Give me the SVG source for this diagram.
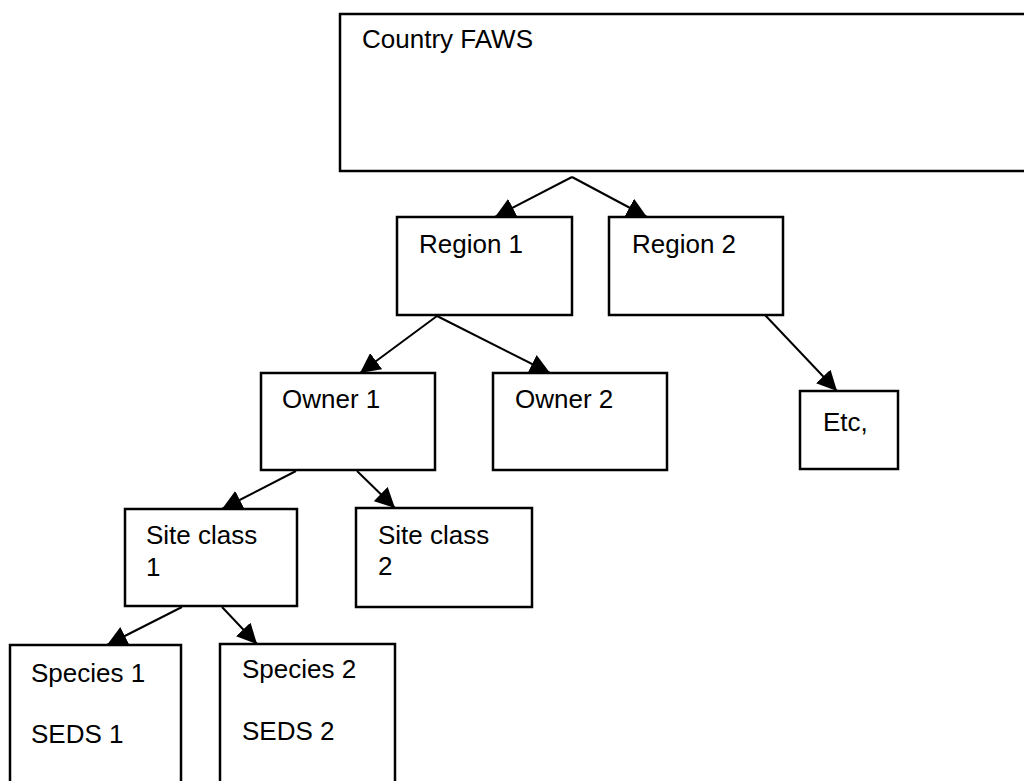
<svg xmlns="http://www.w3.org/2000/svg" width="1024" height="781" viewBox="0 0 1024 781">
<style>
.box{fill:#fff;stroke:#000;stroke-width:2.5}
.lbl{font-family:"Liberation Sans",Arial,sans-serif;font-size:26px;fill:#000}
.con{stroke:#000;stroke-width:2;fill:none;marker-end:url(#ah)}
</style>
<defs>
<marker id="ah" markerUnits="userSpaceOnUse" markerWidth="20" markerHeight="20" viewBox="0 0 20 20" refX="20" refY="10" orient="auto">
<path d="M0,0 L20,10 L0,20 z" fill="#000"/>
</marker>
</defs>
<rect width="1024" height="781" fill="#fff"/>
<g id="connectors">
<line class="con" x1="572" y1="177" x2="495" y2="217"/>
<line class="con" x1="572" y1="177" x2="647" y2="217"/>
<line class="con" x1="437" y1="316" x2="360" y2="373"/>
<line class="con" x1="437" y1="316" x2="550" y2="373"/>
<line class="con" x1="765" y1="315" x2="837" y2="391"/>
<line class="con" x1="296" y1="471" x2="222" y2="509"/>
<line class="con" x1="357" y1="471" x2="395" y2="508"/>
<line class="con" x1="182" y1="607" x2="107" y2="645"/>
<line class="con" x1="222" y1="607" x2="257" y2="644"/>
</g>
<g id="country">
<rect class="box" x="340" y="14" width="700" height="157"/>
<text class="lbl" x="362" y="48">Country FAWS</text>
</g>
<g id="region1">
<rect class="box" x="397" y="217" width="175" height="98"/>
<text class="lbl" x="419" y="253">Region 1</text>
</g>
<g id="region2">
<rect class="box" x="609" y="217" width="174" height="98"/>
<text class="lbl" x="632" y="253">Region 2</text>
</g>
<g id="owner1">
<rect class="box" x="261" y="373" width="174" height="97"/>
<text class="lbl" x="282" y="408">Owner 1</text>
</g>
<g id="owner2">
<rect class="box" x="493" y="373" width="174" height="97"/>
<text class="lbl" x="515" y="408">Owner 2</text>
</g>
<g id="etc">
<rect class="box" x="800" y="391" width="98" height="78"/>
<text class="lbl" x="823" y="431">Etc,</text>
</g>
<g id="siteclass1">
<rect class="box" x="125" y="509" width="172" height="97"/>
<text class="lbl" x="146" y="544">Site class</text>
<text class="lbl" x="146" y="576">1</text>
</g>
<g id="siteclass2">
<rect class="box" x="356" y="508" width="176" height="99"/>
<text class="lbl" x="378" y="544">Site class</text>
<text class="lbl" x="378" y="575">2</text>
</g>
<g id="species1">
<rect class="box" x="10" y="645" width="171" height="150"/>
<text class="lbl" x="31" y="682">Species 1</text>
<text class="lbl" x="31" y="743">SEDS 1</text>
</g>
<g id="species2">
<rect class="box" x="220" y="644" width="175" height="150"/>
<text class="lbl" x="242" y="678">Species 2</text>
<text class="lbl" x="242" y="740">SEDS 2</text>
</g>
</svg>
